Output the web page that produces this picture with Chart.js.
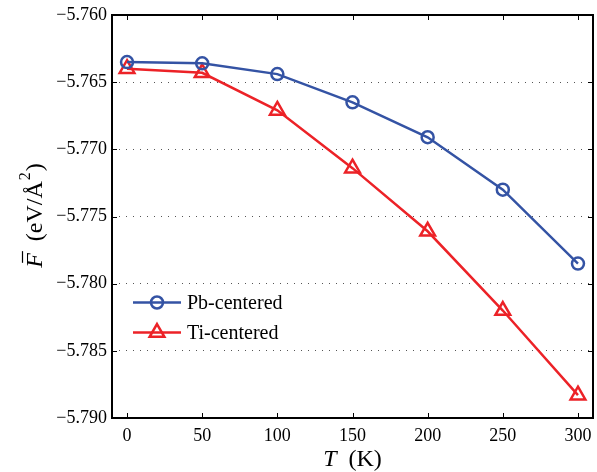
<!DOCTYPE html>
<html>
<head>
<meta charset="utf-8">
<script src="https://cdn.jsdelivr.net/npm/chart.js@4.4.0/dist/chart.umd.min.js"></script>
<style>
  html, body { margin: 0; padding: 0; background: #fff; }
  #wrap { width: 597px; height: 472px; }
</style>
</head>
<body>
<div id="wrap"><canvas id="c" width="597" height="472"></canvas></div>
<script>
// temperatures (K)
var temps = [0, 50, 100, 150, 200, 250, 300];
// free energy per area, eV/A^2
var pbCentered = [-5.7635, -5.7636, -5.7644, -5.7665, -5.7691, -5.7730, -5.7785];
var tiCentered = [-5.7640, -5.7643, -5.7671, -5.7714, -5.7761, -5.7820, -5.7883];
var seriesNames = ['Pb-centered', 'Ti-centered'];
var xTicks = [0, 50, 100, 150, 200, 250, 300];
var yTicks = [-5.790, -5.785, -5.780, -5.775, -5.770, -5.765, -5.760];

var BLUE = '#3453a4';
var RED = '#ec2227';
var SERIF = '"Liberation Serif", "Times New Roman", serif';
var TICK_FONT = 18;
var TITLE_FONT = 24;

function pts(xs, ys) {
  return xs.map(function (x, i) { return { x: x, y: ys[i] }; });
}

// box, inward tick marks, axis titles, legend inside the plot
var decor = {
  id: 'decor',
  afterDraw: function (chart) {
    var ctx = chart.ctx;
    var a = chart.chartArea;
    var xs = chart.scales.x, ys = chart.scales.y;
    ctx.save();
    ctx.strokeStyle = '#000';
    ctx.lineWidth = 1;
    xTicks.forEach(function (t) {
      var px = Math.round(xs.getPixelForValue(t)) + 0.5;
      ctx.beginPath();
      ctx.moveTo(px, a.bottom); ctx.lineTo(px, a.bottom - 5);
      ctx.moveTo(px, a.top); ctx.lineTo(px, a.top + 5);
      ctx.stroke();
    });
    yTicks.forEach(function (t) {
      var py = Math.round(ys.getPixelForValue(t)) + 0.5;
      ctx.beginPath();
      ctx.moveTo(a.left, py); ctx.lineTo(a.left + 5, py);
      ctx.moveTo(a.right, py); ctx.lineTo(a.right - 5, py);
      ctx.stroke();
    });
    ctx.lineWidth = 2;
    ctx.strokeRect(a.left, a.top, a.right - a.left, a.bottom - a.top);

    // x title: T (K)
    ctx.fillStyle = '#000';
    ctx.textBaseline = 'alphabetic';
    var cx = (a.left + a.right) / 2;
    var fT = TITLE_FONT + 'px ' + SERIF;
    ctx.font = 'italic ' + fT;
    var wT = ctx.measureText('T').width;
    ctx.font = fT;
    var wK = ctx.measureText('  (K)').width;
    var x0 = cx - (wT + wK) / 2;
    ctx.font = 'italic ' + fT;
    ctx.fillText('T', x0, 466);
    ctx.font = fT;
    ctx.fillText('  (K)', x0 + wT, 466);

    // y title: F-bar (eV/A^2)
    ctx.save();
    ctx.translate(42, (a.top + a.bottom) / 2);
    ctx.rotate(-Math.PI / 2);
    ctx.font = 'italic ' + fT;
    var wF = ctx.measureText('F').width;
    ctx.font = fT;
    var wMid = ctx.measureText('  (eV/\u00C5').width;
    ctx.font = '16px ' + SERIF;
    var w2 = ctx.measureText('2').width;
    ctx.font = fT;
    var wP = ctx.measureText(')').width;
    var tot = wF + wMid + w2 + wP;
    var sx = -tot / 2;
    ctx.font = 'italic ' + fT;
    ctx.fillText('F', sx, 0);
    ctx.lineWidth = 1.2;
    ctx.beginPath();
    ctx.moveTo(sx + 5, -19.5); ctx.lineTo(sx + wF + 2, -19.5);
    ctx.stroke();
    ctx.font = fT;
    ctx.fillText('  (eV/\u00C5', sx + wF, 0);
    ctx.font = '16px ' + SERIF;
    ctx.fillText('2', sx + wF + wMid + 1, -12);
    ctx.font = fT;
    ctx.fillText(')', sx + wF + wMid + w2 + 2, 0);
    ctx.restore();

    // legend
    var rows = [a.top + 287.5, a.top + 317.5];
    chart.data.datasets.forEach(function (ds, i) {
      var y = rows[i];
      var lx0 = a.left + 21, lx1 = a.left + 69;
      ctx.strokeStyle = ds.borderColor;
      ctx.lineWidth = ds.borderWidth;
      ctx.beginPath();
      ctx.moveTo(lx0, y); ctx.lineTo(lx1, y);
      ctx.stroke();
      ctx.fillStyle = 'rgba(0,0,0,0)';
      Chart.helpers.drawPoint(ctx, {
        pointStyle: ds.pointStyle,
        radius: ds.pointRadius,
        borderWidth: ds.pointBorderWidth,
        rotation: 0
      }, (lx0 + lx1) / 2, y);
      ctx.fillStyle = '#000';
      ctx.font = '20px ' + SERIF;
      ctx.textBaseline = 'middle';
      ctx.fillText(seriesNames[i], a.left + 75, y + 1);
    });
    ctx.restore();
  }
};

new Chart(document.getElementById('c'), {
  type: 'line',
  data: {
    datasets: [
      {
        label: seriesNames[0],
        data: pts(temps, pbCentered),
        borderColor: BLUE,
        backgroundColor: 'transparent',
        borderWidth: 2.5,
        pointStyle: 'circle',
        pointRadius: 6,
        pointBorderWidth: 2.5,
        pointBorderColor: BLUE,
        pointBackgroundColor: 'transparent',
        tension: 0
      },
      {
        label: seriesNames[1],
        data: pts(temps, tiCentered),
        borderColor: RED,
        backgroundColor: 'transparent',
        borderWidth: 2.5,
        pointStyle: 'triangle',
        pointRadius: 8.5,
        pointBorderWidth: 2.5,
        pointBorderColor: RED,
        pointBackgroundColor: 'transparent',
        tension: 0
      }
    ]
  },
  plugins: [decor],
  options: {
    responsive: false,
    animation: false,
    devicePixelRatio: 1,
    layout: { autoPadding: false, padding: { top: 15, right: 4, left: 0, bottom: 0 } },
    plugins: {
      legend: { display: false },
      tooltip: { enabled: false }
    },
    scales: {
      x: {
        type: 'linear',
        min: -10,
        max: 310,
        afterBuildTicks: function (s) { s.ticks = xTicks.map(function (v) { return { value: v }; }); },
        afterFit: function (s) { s.height = 54; s.paddingLeft = 0; s.paddingRight = 0; },
        grid: { display: false, drawTicks: false },
        border: { display: false },
        ticks: {
          padding: 7,
          color: '#000',
          font: { family: SERIF, size: TICK_FONT },
          maxRotation: 0,
          callback: function (v) { return String(v); }
        }
      },
      y: {
        type: 'linear',
        min: -5.790,
        max: -5.760,
        afterBuildTicks: function (s) { s.ticks = yTicks.map(function (v) { return { value: v }; }); },
        afterFit: function (s) { s.width = 112; s.paddingTop = 0; s.paddingBottom = 0; },
        grid: {
          display: true,
          drawTicks: false,
          color: '#555',
          lineWidth: 1
        },
        border: { display: false, dash: [1, 6] },
        ticks: {
          padding: 5,
          color: '#000',
          font: { family: SERIF, size: TICK_FONT },
          callback: function (v) { return v.toFixed(3).replace('-', '\u2212'); }
        }
      }
    }
  }
});
</script>
</body>
</html>
